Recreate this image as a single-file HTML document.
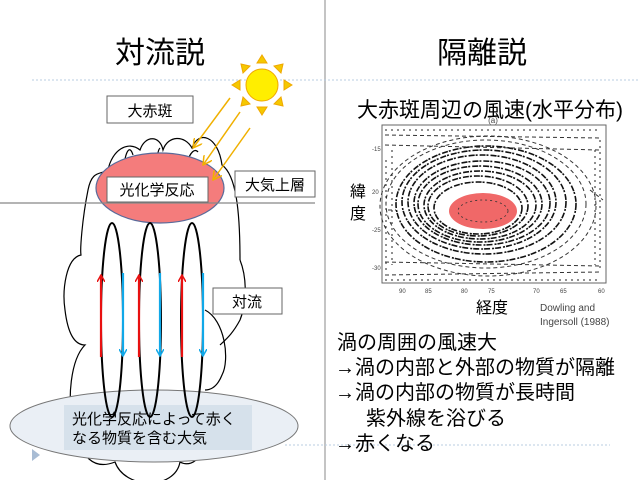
<!DOCTYPE html>
<html><head><meta charset="utf-8"><style>
body{margin:0;width:640px;height:480px;overflow:hidden;background:#fff}
text{font-family:"Liberation Sans","Noto Sans CJK JP",sans-serif}
</style></head><body>
<svg width="640" height="480" viewBox="0 0 640 480" xmlns="http://www.w3.org/2000/svg">
<defs>
<marker id="ar" markerWidth="8" markerHeight="8" refX="7" refY="4" orient="auto" markerUnits="userSpaceOnUse"><path d="M0,0 L7,4 L0,8" fill="none" stroke="#e81010" stroke-width="1.5"/></marker>
<marker id="ab" markerWidth="8" markerHeight="8" refX="7" refY="4" orient="auto" markerUnits="userSpaceOnUse"><path d="M0,0 L7,4 L0,8" fill="none" stroke="#10a8e8" stroke-width="1.5"/></marker>
<marker id="ao" markerWidth="10" markerHeight="10" refX="9" refY="5" orient="auto" markerUnits="userSpaceOnUse"><path d="M0,0 L9,5 L0,10" fill="none" stroke="#f0b000" stroke-width="1.5"/></marker>
</defs>
<line x1="325" y1="0" x2="325" y2="480" stroke="#888" stroke-width="1"/>
<line x1="32" y1="80" x2="640" y2="80" stroke="#b8cde0" stroke-dasharray="2,2"/>
<line x1="285" y1="445" x2="610" y2="445" stroke="#b8cde0" stroke-dasharray="2,2"/>
<text x="160" y="63" font-size="30" text-anchor="middle">対流説</text>
<text x="482" y="63" font-size="30" text-anchor="middle">隔離説</text>
<g transform="translate(262,85)" fill="#f5c800" stroke="#f0a800">
<polygon points="0,-30 5,-22 -5,-22"/><polygon points="0,30 5,22 -5,22"/><polygon points="-30,0 -22,5 -22,-5"/><polygon points="30,0 22,5 22,-5"/>
<polygon points="21,-21 12,-19 19,-12"/><polygon points="-21,-21 -12,-19 -19,-12"/><polygon points="21,21 12,19 19,12"/><polygon points="-21,21 -12,19 -19,12"/>
<circle r="16" fill="#ffee00"/>
</g>
<!-- cloud -->
<g fill="none" stroke="#000" stroke-width="1.2">
<path d="M108,170 C112,150 128,140 140,150 C145,135 160,135 163,150 C168,135 185,135 192,148 C198,130 218,135 222,165 C236,175 240,210 240,260"/>
<path d="M108,170 C100,175 92,170 88,190 C82,220 80,250 81,255 C66,258 62,290 65,310 C68,335 75,345 85,345 C70,360 68,400 72,420 C80,460 95,470 115,462 C125,490 175,490 180,462 C195,470 210,450 205,420"/>
<path d="M240,260 C246,275 248,300 240,320 C232,335 225,340 220,345"/>
<path d="M205,310 C225,320 230,360 222,375 C218,385 212,390 205,390"/>
<path d="M124,165 C126,150 130,145 133,155 M158,172 C156,158 158,150 160,148 M187,163 C190,152 195,148 198,152"/>
</g>
<ellipse cx="160" cy="188" rx="64" ry="35" fill="#f47c7c" stroke="#5a6a9a" stroke-width="1.2"/>
<line x1="0" y1="203" x2="315" y2="203" stroke="#888" stroke-width="1.2"/>
<rect x="107" y="96" width="86" height="27" fill="#fff" stroke="#666"/>
<text x="150" y="116" font-size="15" text-anchor="middle">大赤斑</text>
<rect x="107" y="177" width="101" height="25" fill="#fff" stroke="#666"/>
<text x="157" y="195" font-size="15" text-anchor="middle">光化学反応</text>
<rect x="235" y="171" width="80" height="26" fill="#fff" stroke="#666"/>
<text x="275" y="190" font-size="15" text-anchor="middle">大気上層</text>
<line x1="230" y1="98" x2="193" y2="148" stroke="#f0b000" stroke-width="1.5" marker-end="url(#ao)"/>
<line x1="240" y1="112" x2="203" y2="165" stroke="#f0b000" stroke-width="1.5" marker-end="url(#ao)"/>
<line x1="250" y1="128" x2="213" y2="180" stroke="#f0b000" stroke-width="1.5" marker-end="url(#ao)"/>
<ellipse cx="154" cy="426" rx="144" ry="36" fill="#eaeff5" stroke="#777"/>
<rect x="64" y="405" width="188" height="45" fill="#d6e1eb"/>
<g fill="none" stroke="#000" stroke-width="2">
<ellipse cx="112" cy="320" rx="11" ry="97"/>
<ellipse cx="150" cy="320" rx="11" ry="97"/>
<ellipse cx="192" cy="320" rx="11" ry="97"/>
</g>
<g stroke-width="2.2">
<line x1="101" y1="357" x2="101" y2="275" stroke="#e81010" marker-end="url(#ar)"/>
<line x1="139" y1="357" x2="139" y2="275" stroke="#e81010" marker-end="url(#ar)"/>
<line x1="182" y1="357" x2="182" y2="275" stroke="#e81010" marker-end="url(#ar)"/>
<line x1="123" y1="273" x2="123" y2="356" stroke="#10a8e8" marker-end="url(#ab)"/>
<line x1="160" y1="273" x2="160" y2="356" stroke="#10a8e8" marker-end="url(#ab)"/>
<line x1="203" y1="273" x2="203" y2="356" stroke="#10a8e8" marker-end="url(#ab)"/>
</g>
<rect x="213" y="288" width="69" height="26" fill="#fff" stroke="#666"/>
<text x="247" y="307" font-size="15" text-anchor="middle">対流</text>
<text x="72" y="424" font-size="15">光化学反応によって赤く</text>
<text x="72" y="443" font-size="15">なる物質を含む大気</text>
<polygon points="32,449 40,455 32,461" fill="#a8bcd4"/>
<!-- right -->
<text x="357" y="117" font-size="21">大赤斑周辺の風速(水平分布)</text>
<text x="493" y="123" font-size="8" text-anchor="middle" fill="#444">(a)</text>
<rect x="382" y="125" width="224" height="158" fill="#fff" stroke="#666"/>
<g fill="none" stroke="#111" stroke-width="1.6" stroke-dasharray="6,1,2,2">
<ellipse cx="478" cy="208" rx="44" ry="26"/>
<ellipse cx="478" cy="206" rx="50" ry="30"/>
<ellipse cx="480" cy="205" rx="56" ry="34"/>
<ellipse cx="480" cy="204" rx="62" ry="38"/>
<ellipse cx="482" cy="203" rx="68" ry="42"/>
<ellipse cx="482" cy="202" rx="74" ry="47"/>
<ellipse cx="484" cy="202" rx="82" ry="52"/>
<ellipse cx="486" cy="204" rx="90" ry="58"/>
</g>
<g fill="none" stroke="#333" stroke-width="1" stroke-dasharray="4,3">
<ellipse cx="486" cy="204" rx="100" ry="64"/>
<ellipse cx="488" cy="206" rx="108" ry="70"/>
<line x1="385" y1="135" x2="600" y2="138"/><line x1="385" y1="275" x2="600" y2="272"/>
<line x1="385" y1="262" x2="600" y2="266"/><line x1="385" y1="145" x2="600" y2="150"/>
<line x1="388" y1="210" x2="396" y2="210"/><line x1="590" y1="190" x2="603" y2="200"/>
</g>
<g stroke="#222" stroke-width="1" stroke-dasharray="2,4">
<line x1="385" y1="130" x2="600" y2="130"/><line x1="385" y1="280" x2="600" y2="280"/>
<line x1="386" y1="160" x2="386" y2="270"/><line x1="600" y1="140" x2="600" y2="270"/>
<line x1="392" y1="150" x2="392" y2="265"/><line x1="595" y1="150" x2="595" y2="265"/>
</g>
<ellipse cx="483" cy="211" rx="34" ry="18" fill="#f06868"/>
<g stroke="#333" stroke-width="0.8" stroke-dasharray="2,3"><ellipse cx="483" cy="211" rx="25" ry="11" fill="none"/></g>
<g font-size="6" fill="#444">
<text x="372" y="151">-15</text><text x="372" y="194">20</text><text x="372" y="232">-25</text><text x="372" y="270">-30</text>
<text x="399" y="293">90</text><text x="425" y="293">85</text><text x="461" y="293">80</text><text x="488" y="293">75</text><text x="533" y="293">70</text><text x="560" y="293">65</text><text x="598" y="293">60</text>
</g>
<text x="350" y="197" font-size="16">緯</text>
<text x="350" y="219" font-size="16">度</text>
<text x="476" y="313" font-size="16">経度</text>
<text x="540" y="311" font-size="10" fill="#444">Dowling and</text>
<text x="540" y="325" font-size="10" fill="#444">Ingersoll (1988)</text>
<g font-size="20">
<text x="337" y="349">渦の周囲の風速大</text>
<text x="335" y="374">→渦の内部と外部の物質が隔離</text>
<text x="335" y="399">→渦の内部の物質が長時間</text>
<text x="366" y="425">紫外線を浴びる</text>
<text x="335" y="450">→赤くなる</text>
</g>
</svg>
</body></html>
